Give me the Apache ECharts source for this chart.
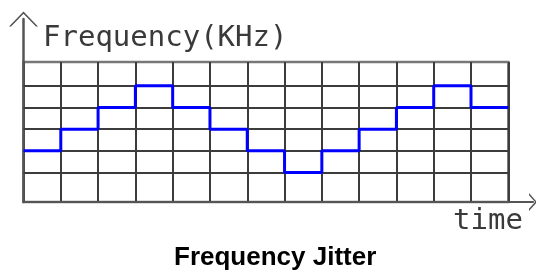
<!DOCTYPE html>
<html lang="en">
    <head>
        <meta charset="UTF-8" />
        <title>Frequency Jitter</title>
        <style>
            * {
                box-sizing: border-box;
                margin: 0;
                padding: 0;
            }
            body {
                background-color: #fff;
            }
            #chart {
                width: 536px;
                height: 275px;
            }
        </style>
    </head>
    <body>
        <div id="chart"></div>
        <script src="https://cdn.jsdelivr.net/npm/echarts@6/dist/echarts.min.js"></script>
        <script>
            // time slots (13 columns) and the frequency level held in each one
            var timeSlots = [0, 1, 2, 3, 4, 5, 6, 7, 8, 9, 10, 11, 12]
            var freqLevels = [2, 3, 4, 5, 4, 3, 2, 1, 2, 3, 4, 5, 4]
            // horizontal grid lines (frequency levels)
            var gridLevels = [1, 2, 3, 4, 5]

            var yName = 'Frequency(KHz)'
            var xName = 'time'
            var chartTitle = 'Frequency Jitter'

            // open arrow heads (pointing up, echarts rotates them along the axis)
            var arrowUp = 'path://M145 0 L290 150 L269 150 L145 22 L21 150 L0 150 Z'
            var arrowRight = 'path://M90 0 L180 80 L157 80 L90 20 L23 80 L0 80 Z'

            // step line: each slot holds its level until the next slot
            var stepData = timeSlots.map(function (t, i) {
                return [t, freqLevels[i]]
            })
            stepData.push([timeSlots.length, freqLevels[freqLevels.length - 1]])

            var nameStyle = {
                fontFamily: 'DejaVu Sans Mono',
                fontWeight: 'normal',
                fontSize: 29,
                color: '#3a3a3a'
            }

            var chart = echarts.init(document.getElementById('chart'))
            chart.setOption({
                animation: false,
                title: [
                    {
                        text: yName,
                        left: 43,
                        top: 24,
                        padding: 0,
                        textStyle: nameStyle
                    },
                    {
                        text: xName,
                        left: 453,
                        top: 207,
                        padding: 0,
                        textStyle: nameStyle
                    },
                    {
                        text: chartTitle,
                        left: 174,
                        top: 245,
                        padding: 0,
                        textStyle: {
                            fontFamily: 'Liberation Sans',
                            fontWeight: 'bold',
                            fontSize: 26,
                            color: '#000'
                        }
                    }
                ],
                grid: [
                    // plotting area
                    {
                        left: 23.5,
                        right: 27.7,
                        top: 62,
                        bottom: 73,
                        show: true,
                        borderColor: '#777',
                        borderWidth: 2.5
                    },
                    // axes with arrows
                    {
                        left: 23.5,
                        right: 3,
                        top: 19,
                        bottom: 73
                    }
                ],
                xAxis: [
                    {
                        type: 'value',
                        gridIndex: 0,
                        min: 0,
                        max: timeSlots.length,
                        interval: 1,
                        axisLine: { show: false },
                        axisTick: { show: false },
                        axisLabel: { show: false },
                        splitLine: {
                            show: true,
                            lineStyle: { color: '#3c3c3c', width: 2 }
                        }
                    },
                    {
                        type: 'value',
                        gridIndex: 1,
                        min: 0,
                        max: 1,
                        axisLine: {
                            show: true,
                            onZero: false,
                            symbol: ['none', arrowRight],
                            symbolSize: [18, 8],
                            lineStyle: { color: '#555', width: 2 }
                        },
                        axisTick: { show: false },
                        axisLabel: { show: false },
                        splitLine: { show: false }
                    }
                ],
                yAxis: [
                    {
                        type: 'value',
                        gridIndex: 0,
                        min: -0.36,
                        max: 6.1,
                        axisLine: { show: false },
                        axisTick: { show: false },
                        axisLabel: { show: false },
                        splitLine: { show: false }
                    },
                    {
                        type: 'value',
                        gridIndex: 1,
                        min: 0,
                        max: 1,
                        axisLine: {
                            show: true,
                            onZero: false,
                            symbol: ['none', arrowUp],
                            symbolSize: [29, 15],
                            lineStyle: { color: '#555', width: 2.5 }
                        },
                        axisTick: { show: false },
                        axisLabel: { show: false },
                        splitLine: { show: false }
                    }
                ],
                series: [
                    {
                        type: 'line',
                        xAxisIndex: 0,
                        yAxisIndex: 0,
                        step: 'end',
                        symbol: 'none',
                        data: stepData,
                        lineStyle: { color: '#0000ff', width: 3 },
                        z: 5,
                        markLine: {
                            silent: true,
                            symbol: ['none', 'none'],
                            label: { show: false },
                            lineStyle: { color: '#3c3c3c', width: 2, type: 'solid' },
                            data: gridLevels.map(function (v) {
                                return { yAxis: v }
                            })
                        }
                    }
                ]
            })
        </script>
    </body>
</html>
